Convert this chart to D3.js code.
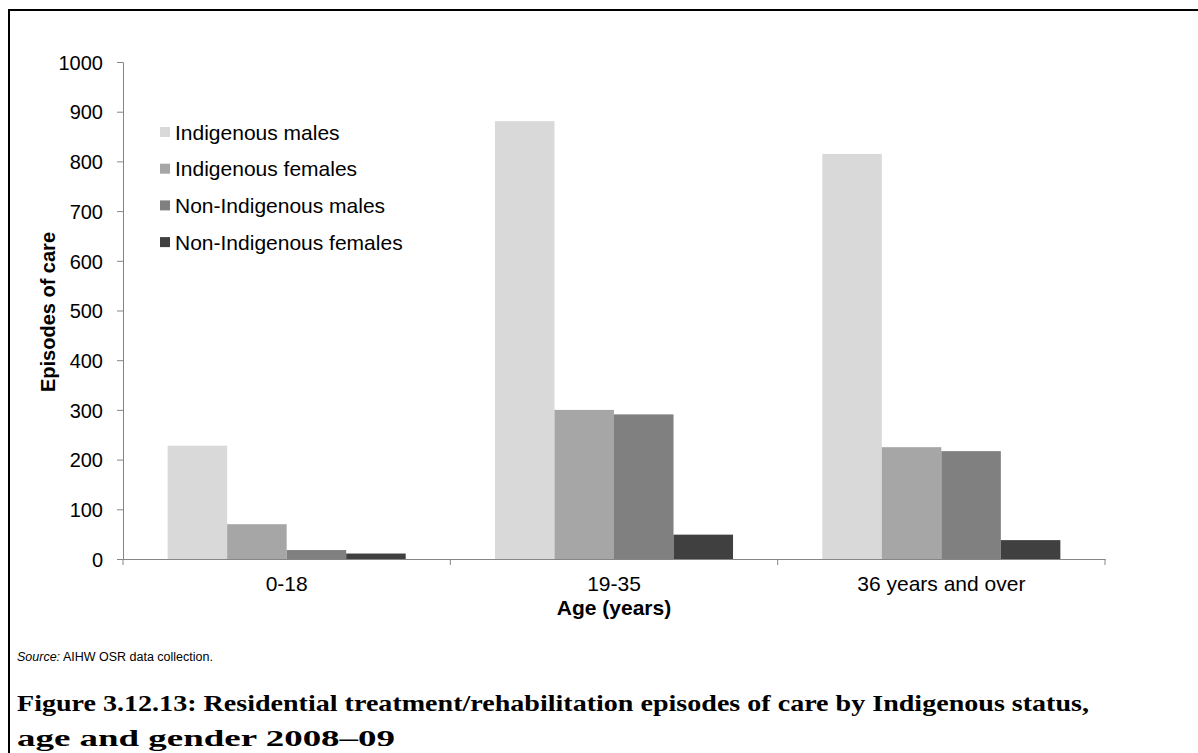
<!DOCTYPE html>
<html>
<head>
  <meta charset="utf-8">
  <title></title>
  <script src="https://cdnjs.cloudflare.com/ajax/libs/d3/7.8.5/d3.min.js"></script>
  <style>
    body { margin: 0; background: #fff; }
    text { font-family: "Liberation Sans", Arial, sans-serif; fill: #000; }
  </style>
</head>
<body>
<script>
const categories = ['0-18', '19-35', '36 years and over'];
const seriesNames = ['Indigenous males', 'Indigenous females', 'Non-Indigenous males', 'Non-Indigenous females'];
const indigenousMales = [228, 881, 815];
const indigenousFemales = [70, 300, 225];
const nonIndigenousMales = [18, 291, 217];
const nonIndigenousFemales = [11, 49, 38];
const yTicks = [0, 100, 200, 300, 400, 500, 600, 700, 800, 900, 1000];
const colors = ['#d9d9d9', '#a6a6a6', '#808080', '#404040'];

const width = 1198, height = 753;
const margin = {top: 62, left: 123, right: 93, bottom: 194};
const plotW = width - margin.left - margin.right;
const plotH = height - margin.top - margin.bottom;

const seriesValues = [indigenousMales, indigenousFemales, nonIndigenousMales, nonIndigenousFemales];
const data = categories.map((c, i) => ({
  cat: c,
  vals: seriesNames.map((s, j) => ({name: s, value: seriesValues[j][i], idx: j}))
}));

const svg = d3.select('body').append('svg')
  .attr('width', width)
  .attr('height', height);

// frame (top + left only)
svg.append('path')
  .attr('d', 'M9,' + height + ' V10 H' + width)
  .attr('fill', 'none')
  .attr('stroke', '#000')
  .attr('stroke-width', 2);

const g = svg.append('g').attr('transform', `translate(${margin.left},${margin.top})`);

const x0 = d3.scaleBand().domain(categories).range([0, plotW]).paddingInner(0).paddingOuter(0);
const barW = x0.bandwidth() / (4 + 1.5);
const x1 = d3.scaleBand().domain(seriesNames)
  .range([barW * 0.75, x0.bandwidth() - barW * 0.75]).padding(0);
const y = d3.scaleLinear().domain([0, 1000]).range([plotH, 0]);

// bars
g.selectAll('.cat')
  .data(data).enter()
  .append('g')
  .attr('transform', d => `translate(${x0(d.cat)},0)`)
  .selectAll('rect')
  .data(d => d.vals).enter()
  .append('rect')
  .attr('x', d => x1(d.name))
  .attr('width', x1.bandwidth())
  .attr('y', d => y(d.value))
  .attr('height', d => plotH - y(d.value))
  .attr('fill', d => colors[d.idx]);

// y axis
const yAxis = g.append('g')
  .call(d3.axisLeft(y).tickValues(yTicks).tickFormat(d3.format('d')).tickSize(6).tickPadding(14));
yAxis.select('.domain').attr('stroke', '#868686');
yAxis.selectAll('.tick line').attr('stroke', '#868686');
yAxis.selectAll('.tick text')
  .style('font-size', '20px')
  .attr('dy', '0.36em');

// x axis (ticks at category boundaries)
const xAxis = g.append('g')
  .attr('transform', `translate(0,${plotH})`)
  .call(d3.axisBottom(x0).tickSize(0).tickPadding(17));
xAxis.select('.domain').attr('stroke', '#868686');
xAxis.selectAll('.tick text').style('font-size', '21px');

const boundaries = [0].concat(categories.map(c => x0(c) + x0.bandwidth()));
xAxis.selectAll('.bnd')
  .data(boundaries).enter()
  .append('line')
  .attr('x1', d => d).attr('x2', d => d)
  .attr('y1', 0).attr('y2', 6)
  .attr('stroke', '#868686');

// axis titles
svg.append('text')
  .attr('transform', 'translate(55,312) rotate(-90)')
  .attr('text-anchor', 'middle')
  .style('font-size', '20px')
  .style('font-weight', 'bold')
  .text('Episodes of care');

svg.append('text')
  .attr('x', 614).attr('y', 615)
  .attr('text-anchor', 'middle')
  .style('font-size', '21px')
  .style('font-weight', 'bold')
  .text('Age (years)');

// legend
const legend = svg.append('g').attr('transform', 'translate(160,132)');
const rowH = 36.7;
seriesNames.forEach((s, i) => {
  legend.append('rect')
    .attr('x', 0).attr('y', i * rowH - 5)
    .attr('width', 10).attr('height', 10)
    .attr('fill', colors[i]);
  legend.append('text')
    .attr('x', 15).attr('y', i * rowH)
    .attr('dy', '0.36em')
    .style('font-size', '21px')
    .text(s);
});

// source note
const src = svg.append('text')
  .attr('x', 17).attr('y', 661)
  .style('font-size', '12.5px');
src.append('tspan').style('font-style', 'italic').text('Source:');
src.append('tspan').text(' AIHW OSR data collection.');

// caption
const cap = ['Figure 3.12.13: Residential treatment/rehabilitation episodes of care by Indigenous status,',
             'age and gender 2008\u201309'];
const capLen = [1072, 378];
cap.forEach((t, i) => {
  svg.append('text')
    .attr('x', 17).attr('y', 711 + i * 35)
    .attr('textLength', capLen[i])
    .attr('lengthAdjust', 'spacingAndGlyphs')
    .style('font-family', '"Liberation Serif", "DejaVu Serif", serif')
    .style('font-size', '23px')
    .style('font-weight', 'bold')
    .text(t);
});
</script>
</body>
</html>
